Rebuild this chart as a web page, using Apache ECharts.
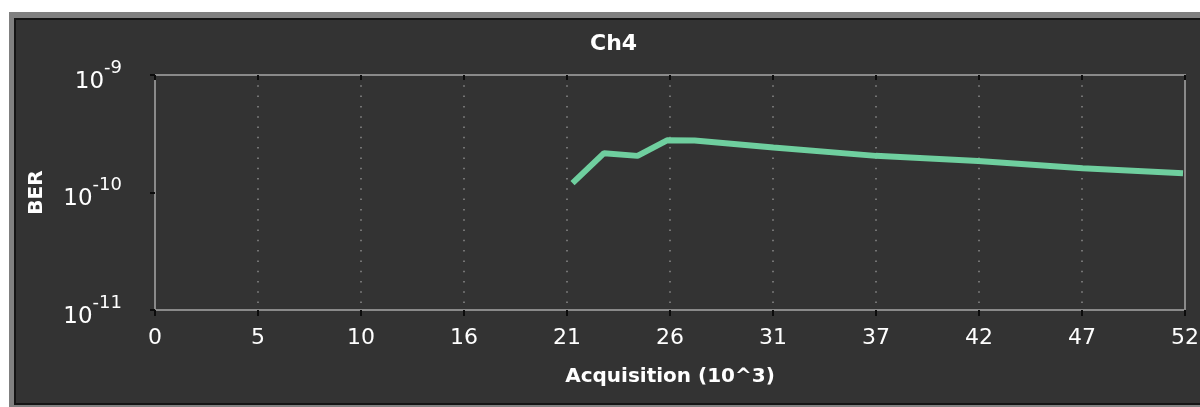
<!DOCTYPE html>
<html>
<head>
<meta charset="utf-8">
<script src="https://cdn.jsdelivr.net/npm/echarts@6/dist/echarts.min.js"></script>
<style>
  html, body { margin: 0; padding: 0; background: #fff; }
  .panel { position: absolute; }
  #outer { left: 9px; top: 12px; width: 1191px; height: 395px; background: #808080; }
  #edge  { left: 14px; top: 18px; width: 1186px; height: 387px; background: #141414; }
  #face  { left: 16px; top: 20px; width: 1184px; height: 383px; background: #333333; }
  #chart { position: absolute; left: 0; top: 0; width: 1200px; height: 407px; }
</style>
</head>
<body>
<div id="outer" class="panel"></div>
<div id="edge" class="panel"></div>
<div id="face" class="panel"></div>
<div id="chart"></div>
<script>
// Chart text
const chartTitle = 'Ch4';
const xTitle = 'Acquisition (10^3)';
const yTitle = 'BER';

// X axis: 10 equal steps across the acquisition range, labels rounded
const xMax = 52.3;
const xTickLabels = ['0', '5', '10', '16', '21', '26', '31', '37', '42', '47', '52'];

// Y axis: log decades
const yMin = 1e-11;
const yMax = 1e-9;

// Measured bit error ratio per acquisition count (thousands)
const acquisition = [21.2, 22.8, 24.5, 26.0, 27.4, 31.4, 36.6, 41.8, 47.1, 52.2];
const ber = [1.20e-10, 2.16e-10, 2.05e-10, 2.78e-10, 2.77e-10, 2.42e-10, 2.05e-10, 1.85e-10, 1.61e-10, 1.46e-10];

const FONT = 'DejaVu Sans';
const xStep = xMax / 10;
const tickStyle = { color: '#0c0c0c', width: 2 };

const chart = echarts.init(document.getElementById('chart'), null, { renderer: 'canvas' });

chart.setOption({
  animation: false,
  backgroundColor: 'transparent',
  title: {
    text: chartTitle,
    left: 590,
    top: 33,
    padding: 0,
    textStyle: { color: '#ffffff', fontSize: 22, fontWeight: 'bold', fontFamily: FONT }
  },
  grid: {
    left: 155, right: 15, top: 75, bottom: 97,
    show: true,
    borderColor: '#8a8a8a',
    borderWidth: 2,
    backgroundColor: 'transparent',
    outerBoundsMode: 'none'
  },
  xAxis: [
    {
      type: 'value',
      position: 'bottom',
      min: 0,
      max: xMax,
      interval: xStep,
      axisLine: { show: false },
      axisTick: { show: true, length: 6, lineStyle: tickStyle },
      axisLabel: {
        color: '#ffffff',
        fontSize: 22,
        fontFamily: FONT,
        margin: 17,
        formatter: v => xTickLabels[Math.round(v / xStep)]
      },
      splitLine: { show: true, lineStyle: { color: '#8a8a8a', width: 1.5, type: [1.5, 8.8] } },
      name: xTitle,
      nameLocation: 'middle',
      nameGap: 57,
      nameTextStyle: { color: '#ffffff', fontSize: 20, fontWeight: 'bold', fontFamily: FONT }
    },
    {
      type: 'value',
      position: 'top',
      min: 0,
      max: xMax,
      interval: xStep,
      axisLine: { show: false },
      axisTick: { show: true, inside: true, length: 5, lineStyle: tickStyle },
      axisLabel: { show: false },
      splitLine: { show: false }
    }
  ],
  yAxis: [
    {
      type: 'log',
      logBase: 10,
      position: 'left',
      min: yMin,
      max: yMax,
      axisLine: { show: false },
      axisTick: { show: true, length: 5, lineStyle: tickStyle },
      axisLabel: {
        color: '#ffffff',
        fontFamily: FONT,
        margin: 33,
        formatter: v => '{b|10}{s|' + Math.round(Math.log10(v)) + '}',
        rich: {
          b: { color: '#ffffff', fontSize: 23, fontFamily: FONT, padding: [14, 0, 0, 0] },
          s: { color: '#ffffff', fontSize: 18, fontFamily: FONT, padding: [0, 0, 14, 0] }
        }
      },
      splitLine: { show: false },
      name: yTitle,
      nameLocation: 'middle',
      nameRotate: 90,
      nameGap: 108,
      nameTextStyle: { color: '#ffffff', fontSize: 20, fontWeight: 'bold', fontFamily: FONT }
    },
    {
      type: 'log',
      logBase: 10,
      position: 'right',
      min: yMin,
      max: yMax,
      axisLine: { show: false },
      axisTick: { show: true, inside: true, length: 5, lineStyle: tickStyle },
      axisLabel: { show: false },
      splitLine: { show: false }
    }
  ],
  series: [
    {
      type: 'line',
      xAxisIndex: 0,
      yAxisIndex: 0,
      data: acquisition.map((x, i) => [x, ber[i]]),
      symbol: 'none',
      lineStyle: { color: '#6fcf9f', width: 6 }
    }
  ]
});
</script>
</body>
</html>
